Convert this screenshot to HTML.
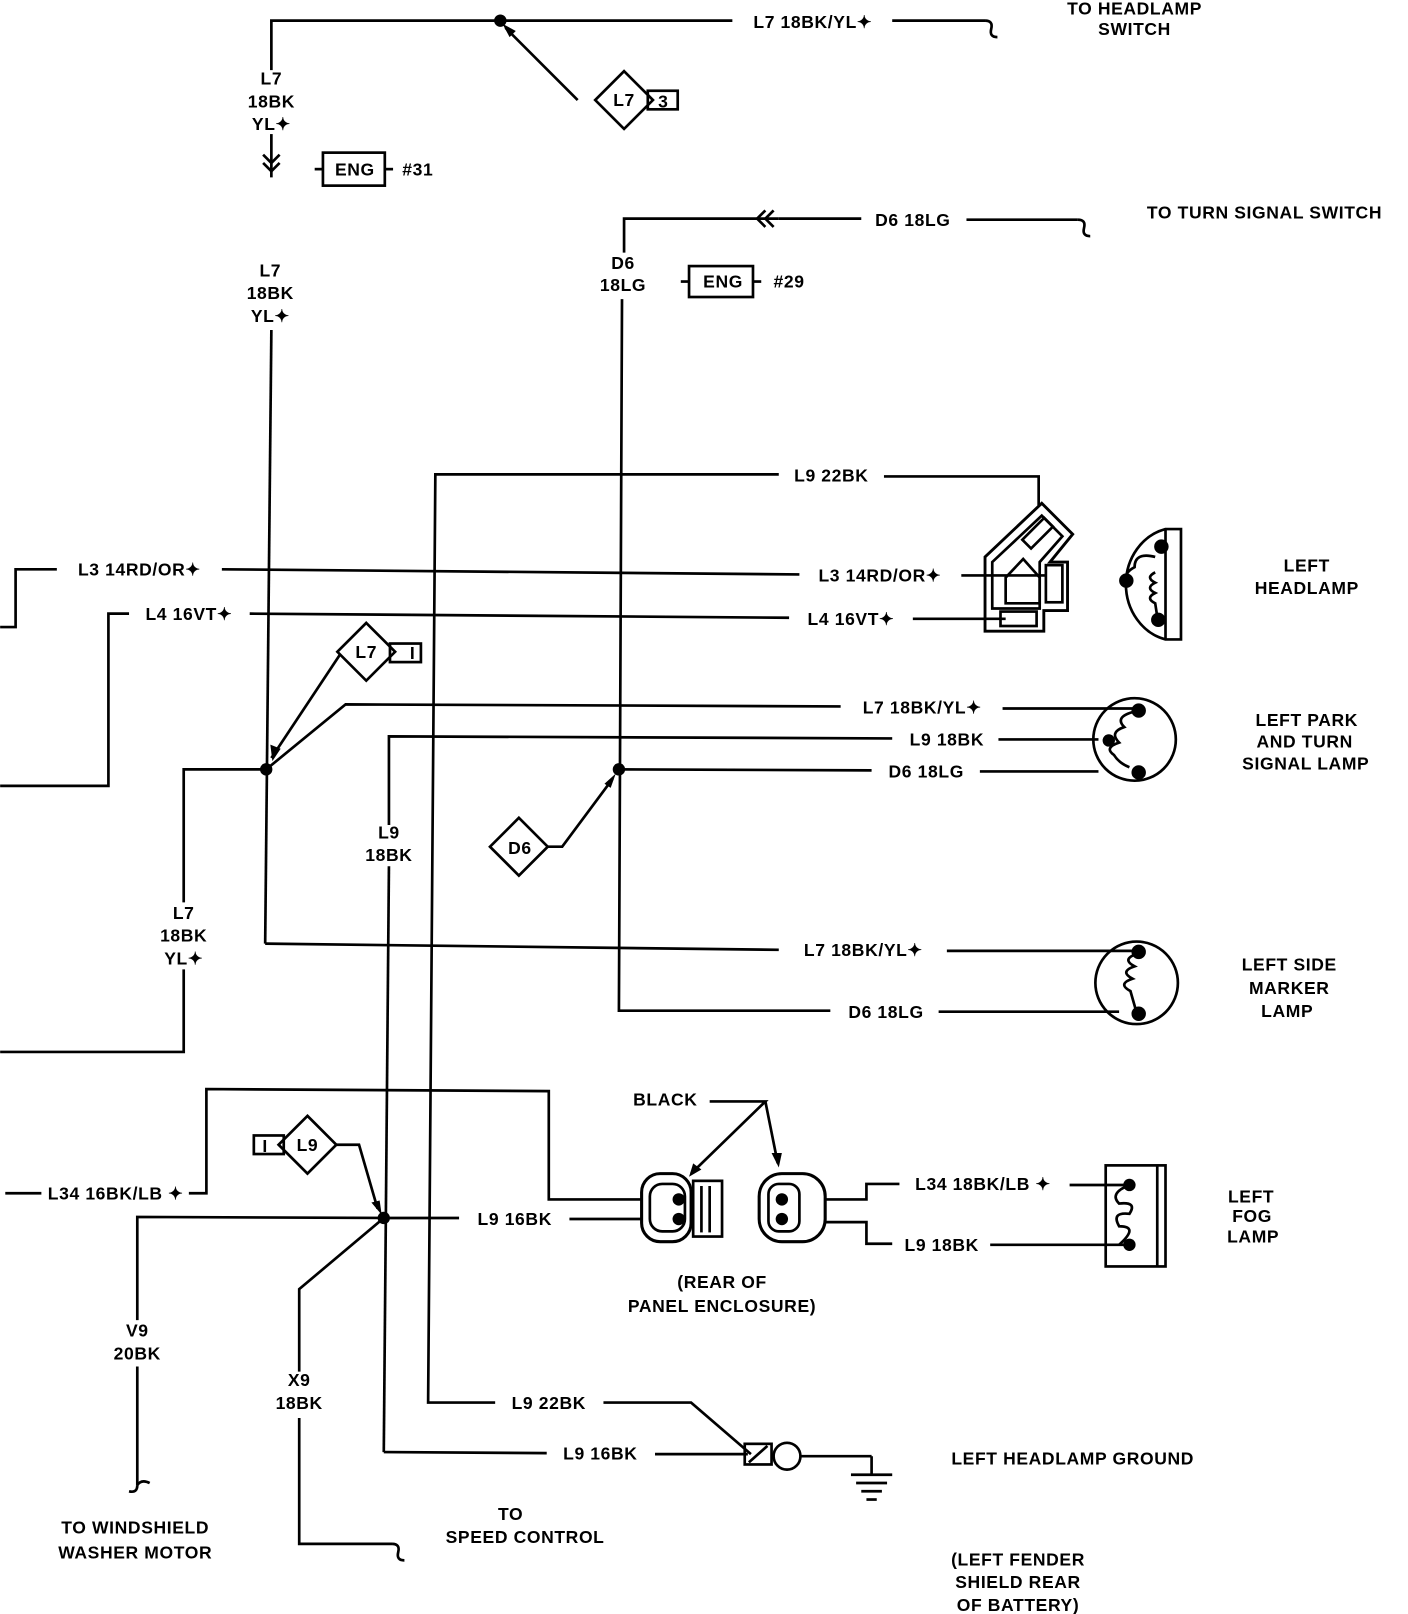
<!DOCTYPE html>
<html><head><meta charset="utf-8"><style>
html,body{margin:0;padding:0;background:#fff}
svg{display:block}
text{font-family:"Liberation Sans",sans-serif;font-weight:bold;font-size:17px;fill:#000;letter-spacing:0.6px}
</style></head><body>
<svg width="1408" height="1614" viewBox="0 0 1365 1565" xmlns="http://www.w3.org/2000/svg">
<g stroke="#000" stroke-width="2.6" fill="none">
<polyline points="263,68 263,20 710,20"/>
<line x1="865" y1="20" x2="955" y2="20"/>
<path d="M955,20 q8,0 6,8 q-2,8 6,8"/>
<line x1="263" y1="130" x2="263" y2="172"/>
<path d="M255,150 l8,8 l8,-8 M255,158 l8,8 l8,-8"/>
<line x1="263" y1="320" x2="257" y2="915"/>
<polyline points="257,915 755,921"/>
<line x1="918" y1="922" x2="1100" y2="922"/>
<line x1="560" y1="97" x2="490" y2="27"/>
<polygon points="605,69 633,97 605,125 577,97"/>
<rect x="628" y="88" width="29" height="18"/>
<rect x="313" y="148" width="60" height="32"/>
<line x1="305" y1="164" x2="313" y2="164"/><line x1="373" y1="164" x2="381" y2="164"/>
<polyline points="605,245 605,212 755,212"/>
<path d="M750,204 l-8,8 l8,8 M742,204 l-8,8 l8,8"/>
<line x1="755" y1="212" x2="835" y2="212"/>
<line x1="937" y1="213" x2="1045" y2="213"/>
<path d="M1045,213 q8,0 6,8 q-2,8 6,8"/>
<rect x="668" y="258" width="62" height="30"/>
<line x1="660" y1="273" x2="668" y2="273"/><line x1="730" y1="273" x2="738" y2="273"/>
<polyline points="603,290 600,980 805,980"/>
<line x1="910" y1="981" x2="1085" y2="981"/>
<polyline points="755,460 422,460 415,1360 480,1360"/>
<polyline points="857,462 1007,462 1007,490"/>
<polyline points="585,1360 670,1360 728,1410"/>
<polyline points="0,608 15,608 15,552 55,552"/>
<line x1="215" y1="552" x2="775" y2="557"/>
<line x1="932" y1="558" x2="1015" y2="558"/>
<polyline points="0,762 105,762 105,595 125,595"/>
<line x1="242" y1="595" x2="765" y2="599"/>
<line x1="885" y1="600" x2="975" y2="600"/>
<polygon points="355,604 383,632 355,660 327,632"/>
<rect x="378" y="624" width="30" height="18"/>
<line x1="330" y1="634" x2="263" y2="735"/>
<polyline points="258,746 335,683 815,685"/>
<line x1="972" y1="687" x2="1100" y2="687"/>
<polyline points="377,800 377,714 865,716"/>
<line x1="968" y1="717" x2="1065" y2="717"/>
<line x1="377" y1="840" x2="372" y2="1408"/>
<polyline points="372,1408 530,1409"/>
<line x1="635" y1="1410" x2="725" y2="1410"/>
<line x1="600" y1="746" x2="845" y2="747"/>
<line x1="950" y1="748" x2="1065" y2="748"/>
<polygon points="503,793 531,821 503,849 475,821"/>
<polyline points="531,821 545,821 594,755"/>
<polyline points="258,746 178,746 178,875"/>
<polyline points="178,940 178,1020 0,1020"/>
<line x1="5" y1="1157" x2="40" y2="1157"/>
<polyline points="183,1157 200,1157 200,1056 532,1058 532,1163 622,1163"/>
<polyline points="372,1181 133,1180 133,1280"/>
<line x1="133" y1="1325" x2="133" y2="1440"/>
<path d="M133,1440 q0,8 -8,6 M133,1440 q4,-6 12,-2"/>
<polyline points="372,1181 290,1250 290,1330"/>
<polyline points="290,1375 290,1497 380,1497"/>
<path d="M380,1497 q8,0 6,8 q-2,8 6,8"/>
<polygon points="298,1082 326,1110 298,1138 270,1110"/>
<rect x="246" y="1101" width="29" height="18"/>
<polyline points="326,1110 348,1110 366,1172"/>
<line x1="372" y1="1181" x2="445" y2="1181"/>
<line x1="552" y1="1182" x2="622" y2="1182"/>
<rect x="622" y="1138" width="48" height="66" rx="18" stroke-width="3"/>
<rect x="630" y="1148" width="34" height="46" rx="12"/>
<rect x="672" y="1145" width="28" height="54"/>
<line x1="680" y1="1150" x2="680" y2="1195"/><line x1="688" y1="1150" x2="688" y2="1195"/>
<rect x="736" y="1138" width="64" height="66" rx="22" stroke-width="3"/>
<rect x="745" y="1148" width="30" height="46" rx="10"/>
<polyline points="688,1068 742,1068 670,1138"/>
<line x1="742" y1="1068" x2="754" y2="1128"/>
<polyline points="800,1163 840,1163 840,1148 872,1148"/>
<line x1="1037" y1="1149" x2="1095" y2="1149"/>
<polyline points="800,1185 840,1185 840,1206 865,1206"/>
<line x1="960" y1="1207" x2="1095" y2="1207"/>
<rect x="1072" y="1130" width="58" height="98"/>
<line x1="1122" y1="1130" x2="1122" y2="1228"/>
<path d="M1095,1149 q-20,8 -10,18 q18,-2 10,10 q-18,-2 -10,12 q20,0 0,18"/>
<rect x="722" y="1400" width="26" height="20"/>
<line x1="726" y1="1418" x2="744" y2="1402"/>
<circle cx="763" cy="1412" r="13"/>
<line x1="776" y1="1412" x2="845" y2="1412"/>
<line x1="845" y1="1412" x2="845" y2="1430"/>
<line x1="825" y1="1430" x2="865" y2="1430"/>
<line x1="830" y1="1438" x2="860" y2="1438"/>
<line x1="835" y1="1446" x2="855" y2="1446"/>
<line x1="840" y1="1454" x2="850" y2="1454"/>
<path d="M955,540 L1010,488 L1040,518 L1018,545 L1035,545 L1035,592 L1012,592 L1012,612 L955,612 Z" stroke-width="2.8"/>
<path d="M962,545 L1010,500 L1030,520 L1008,545 L1008,590 L962,590 Z"/>
<path d="M975,560 L992,542 L1008,560 L1008,585 L975,585 Z"/>
<rect x="1014" y="548" width="16" height="36"/>
<rect x="970" y="593" width="35" height="14"/>
<rect x="1000" y="502" width="12" height="30" transform="rotate(45 1006 517)"/>
<path d="M1145,513 L1130,513 A50,55 0 0 0 1130,620 L1145,620 Z"/>
<line x1="1130" y1="513" x2="1130" y2="620"/>
<path d="M1120,540 q-20,-5 -20,10 q-10,5 -10,15 M1120,555 q-10,5 0,10 q-10,5 0,10 q-10,5 0,10 L1122,598"/>
<circle cx="1100" cy="717" r="40"/>
<path d="M1100,690 q-20,5 -10,15 q-15,5 -5,15 q-15,5 -5,12 q5,8 15,12"/>
<circle cx="1102" cy="953" r="40"/>
<path d="M1102,925 q-15,5 -2,12 q-15,5 -2,12 q-15,5 -2,12 L1102,982"/>
</g>
<g fill="#000">
<circle cx="485" cy="20" r="6"/><circle cx="258" cy="746" r="6"/><circle cx="600" cy="746" r="6"/><circle cx="372" cy="1181" r="6"/>
<circle cx="1126" cy="530" r="7"/><circle cx="1092" cy="563" r="7"/><circle cx="1123" cy="601" r="7"/>
<circle cx="1104" cy="689" r="7"/><circle cx="1075" cy="718" r="6"/><circle cx="1104" cy="749" r="7"/>
<circle cx="1104" cy="923" r="7"/><circle cx="1104" cy="983" r="7"/>
<circle cx="1095" cy="1149" r="6"/><circle cx="1095" cy="1207" r="6"/>
<circle cx="658" cy="1163" r="6"/><circle cx="658" cy="1182" r="6"/><circle cx="758" cy="1163" r="6"/><circle cx="758" cy="1182" r="6"/>
<polygon points="487,23 500,30 494,36"/><polygon points="264,738 262,722 272,726"/><polygon points="597,750 586,760 592,764"/><polygon points="370,1178 360,1166 368,1164"/>
<polygon points="668,1141 672,1128 680,1134"/><polygon points="755,1132 748,1118 758,1118"/>
</g>
<g text-anchor="middle">
<text x="263" y="82">L7</text><text x="263" y="104">18BK</text><text x="263" y="126">YL✦</text>
<text x="344" y="170" font-size="15">ENG</text><text x="405" y="170">#31</text>
<text x="262" y="268">L7</text><text x="262" y="290">18BK</text><text x="262" y="312">YL✦</text>
<text x="605" y="103" font-size="15">L7</text><text x="643" y="104" font-size="15">3</text>
<text x="788" y="27">L7 18BK/YL✦</text>
<text x="1100" y="14">TO HEADLAMP</text><text x="1100" y="34">SWITCH</text>
<text x="885" y="219">D6 18LG</text>
<text x="1226" y="212">TO TURN SIGNAL SWITCH</text>
<text x="604" y="261">D6</text><text x="604" y="282">18LG</text>
<text x="701" y="279" font-size="15">ENG</text><text x="765" y="279">#29</text>
<text x="806" y="467">L9 22BK</text>
<text x="135" y="558">L3 14RD/OR✦</text>
<text x="853" y="564">L3 14RD/OR✦</text>
<text x="183" y="601">L4  16VT✦</text>
<text x="825" y="606">L4  16VT✦</text>
<text x="355" y="638" font-size="15">L7</text><text x="400" y="639" font-size="14">I</text>
<text x="894" y="692">L7  18BK/YL✦</text>
<text x="918" y="723">L9  18BK</text>
<text x="898" y="754">D6  18LG</text>
<text x="1267" y="554">LEFT</text><text x="1267" y="576">HEADLAMP</text>
<text x="1267" y="704">LEFT PARK</text><text x="1265" y="725">AND TURN</text><text x="1266" y="746">SIGNAL LAMP</text>
<text x="377" y="813">L9</text><text x="377" y="835">18BK</text>
<text x="504" y="828" font-size="15">D6</text>
<text x="178" y="891">L7</text><text x="178" y="913">18BK</text><text x="178" y="935">YL✦</text>
<text x="837" y="927">L7  18BK/YL✦</text>
<text x="859" y="987">D6  18LG</text>
<text x="1250" y="941">LEFT SIDE</text><text x="1250" y="964">MARKER</text><text x="1248" y="986">LAMP</text>
<text x="645" y="1072">BLACK</text>
<text x="112" y="1163" font-size="15">L34 16BK/LB ✦</text>
<text x="298" y="1116" font-size="15">L9</text><text x="257" y="1117" font-size="14">I</text>
<text x="499" y="1188">L9  16BK</text>
<text x="953" y="1154">L34  18BK/LB ✦</text>
<text x="913" y="1213">L9  18BK</text>
<text x="1213" y="1166" font-size="16">LEFT</text><text x="1214" y="1185" font-size="16">FOG</text><text x="1215" y="1205" font-size="16">LAMP</text>
<text x="700" y="1249">(REAR OF</text><text x="700" y="1272">PANEL ENCLOSURE)</text>
<text x="133" y="1296">V9</text><text x="133" y="1318">20BK</text>
<text x="290" y="1344">X9</text><text x="290" y="1366">18BK</text>
<text x="532" y="1366">L9  22BK</text>
<text x="582" y="1415">L9  16BK</text>
<text x="1040" y="1420">LEFT HEADLAMP GROUND</text>
<text x="131" y="1487">TO WINDSHIELD</text><text x="131" y="1511">WASHER MOTOR</text>
<text x="495" y="1474">TO</text><text x="509" y="1496">SPEED CONTROL</text>
<text x="987" y="1518">(LEFT FENDER</text><text x="987" y="1540">SHIELD REAR</text><text x="987" y="1562">OF BATTERY)</text>
</g>
</svg>
</body></html>
